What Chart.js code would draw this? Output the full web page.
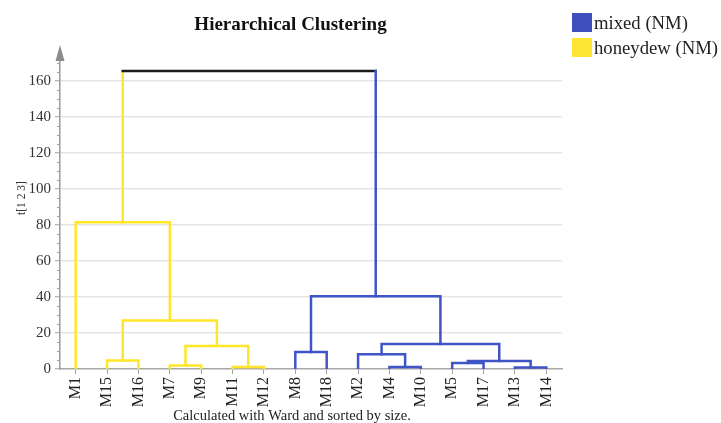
<!DOCTYPE html>
<html>
<head>
<meta charset="utf-8">
<script src="https://cdn.jsdelivr.net/npm/chart.js@4/dist/chart.umd.min.js"></script>
<style>
  html, body { margin: 0; padding: 0; background: #fff; }
  canvas { display: block; }
</style>
</head>
<body>
<canvas id="c" width="721" height="423"></canvas>
<script>
// Leaves of the dendrogram, left to right
const leaves = ['M1', 'M15', 'M16', 'M7', 'M9', 'M11', 'M12', 'M8', 'M18', 'M2', 'M4', 'M10', 'M5', 'M17', 'M13', 'M14'];
// Cluster of each leaf
const leafGroups = ['honeydew', 'honeydew', 'honeydew', 'honeydew', 'honeydew', 'honeydew', 'honeydew',
                    'mixed', 'mixed', 'mixed', 'mixed', 'mixed', 'mixed', 'mixed', 'mixed', 'mixed'];
// Ward merges: nodes 0..15 are leaves, merge k creates node 16 + k
const mergeLeft   = [1, 3, 5, 17, 16, 0, 7, 10, 9, 12, 14, 25, 24, 22, 21];
const mergeRight  = [2, 4, 6, 18, 19, 20, 8, 11, 23, 13, 15, 26, 27, 28, 29];
const mergeHeight = [4.7, 2.0, 1.1, 12.8, 26.9, 81.5, 9.5, 1.1, 8.2, 3.3, 0.8, 4.4, 13.9, 40.4, 165.5];
// Legend entries
const legendLabels = ['mixed (NM)', 'honeydew (NM)'];
const legendGroups = ['mixed', 'honeydew'];

const lineColors = { honeydew: '#FFE629', mixed: '#3F55C6', root: '#1c1c1c' };
const boxColors = { honeydew: '#FFE635', mixed: '#3F4FBD' };
const SERIF = '"Liberation Serif", "DejaVu Serif", serif';

// Node positions (x = mean of children, y = merge height) and cluster of every node
const nodeX = leaves.map((_, i) => i);
const nodeY = leaves.map(() => 0);
const nodeGroup = leafGroups.slice();
mergeHeight.forEach((h, k) => {
  const l = mergeLeft[k], r = mergeRight[k];
  nodeX.push((nodeX[l] + nodeX[r]) / 2);
  nodeY.push(h);
  nodeGroup.push(nodeGroup[l] === nodeGroup[r] ? nodeGroup[l] : 'root');
});

// One U-shaped link per merge: left leg, bar, right leg
const datasets = mergeHeight.map((h, k) => {
  const l = mergeLeft[k], r = mergeRight[k], self = leaves.length + k;
  const segCols = [lineColors[nodeGroup[l]], lineColors[nodeGroup[self]], lineColors[nodeGroup[r]]];
  return {
    data: [
      { x: nodeX[l], y: nodeY[l] },
      { x: nodeX[l], y: h },
      { x: nodeX[r], y: h },
      { x: nodeX[r], y: nodeY[r] }
    ],
    borderColor: segCols[1],
    segment: { borderColor: ctx => segCols[ctx.p0DataIndex] },
    borderWidth: 2.5,
    borderCapStyle: 'square',
    borderJoinStyle: 'miter',
    pointRadius: 0,
    tension: 0,
    fill: false
  };
});

// Extras around the plot: minor ticks, axis arrow, titles, legend
const decor = {
  id: 'decor',
  afterDraw(chart) {
    const { ctx, chartArea: a, scales: { y } } = chart;
    ctx.save();

    ctx.strokeStyle = '#a0a0a0';
    ctx.lineWidth = 1;
    for (let v = 5; v <= 170; v += 5) {
      if (v % 20 === 0) continue;
      const py = Math.round(y.getPixelForValue(v)) + 0.5;
      ctx.beginPath();
      ctx.moveTo(a.left - 3, py);
      ctx.lineTo(a.left, py);
      ctx.stroke();
    }

    ctx.fillStyle = '#8c8c8c';
    ctx.beginPath();
    ctx.moveTo(a.left, 45);
    ctx.lineTo(a.left - 4.5, 61);
    ctx.lineTo(a.left + 4.5, 61);
    ctx.closePath();
    ctx.fill();

    ctx.fillStyle = '#111';
    ctx.textAlign = 'center';
    ctx.textBaseline = 'alphabetic';
    ctx.font = 'bold 19px ' + SERIF;
    ctx.fillText('Hierarchical Clustering', 290.5, 29.5);

    ctx.fillStyle = '#222';
    ctx.font = '14.5px ' + SERIF;
    ctx.fillText('Calculated with Ward and sorted by size.', 292, 420);

    ctx.save();
    ctx.translate(25, 198);
    ctx.rotate(-Math.PI / 2);
    ctx.font = '11.5px ' + SERIF;
    ctx.fillStyle = '#333';
    ctx.fillText('t[1 2 3]', 0, 0);
    ctx.restore();

    ctx.textAlign = 'left';
    ctx.font = '18.7px ' + SERIF;
    legendLabels.forEach((label, i) => {
      const top = 13 + i * 25;
      ctx.fillStyle = boxColors[legendGroups[i]];
      ctx.fillRect(572, top, 20, 19);
      ctx.fillStyle = '#222';
      ctx.fillText(label, 594, top + 16);
    });

    ctx.restore();
  }
};

Chart.defaults.font.family = SERIF;

new Chart(document.getElementById('c'), {
  type: 'line',
  data: { datasets },
  plugins: [decor],
  options: {
    responsive: false,
    animation: false,
    devicePixelRatio: 1,
    layout: { padding: { left: 0, right: 159, top: 54, bottom: 0 } },
    plugins: { legend: { display: false }, tooltip: { enabled: false } },
    scales: {
      x: {
        type: 'linear',
        min: -0.5,
        max: 15.5,
        afterBuildTicks: s => { s.ticks = leaves.map((_, i) => ({ value: i })); },
        afterFit: s => { s.height = 54; },
        ticks: {
          autoSkip: false,
          minRotation: 90,
          maxRotation: 90,
          padding: 3,
          color: '#222',
          font: { size: 16 },
          callback: v => leaves[v]
        },
        grid: { drawOnChartArea: false, tickLength: 5, tickColor: '#a0a0a0', tickWidth: 1 },
        border: { color: '#a8a8a8', width: 1.5 }
      },
      y: {
        min: 0,
        max: 175,
        afterFit: s => { s.width = 60; },
        ticks: {
          stepSize: 20,
          includeBounds: false,
          padding: 4,
          color: '#333',
          font: { size: 15 }
        },
        grid: {
          color: ctx => (ctx.tick && ctx.tick.value === 0) ? 'rgba(0,0,0,0)' : '#e5e5e5',
          lineWidth: 1.5,
          tickLength: 5,
          tickColor: '#a0a0a0',
          tickWidth: 1
        },
        border: { color: '#9a9a9a', width: 1.5 }
      }
    }
  }
});
</script>
</body>
</html>
